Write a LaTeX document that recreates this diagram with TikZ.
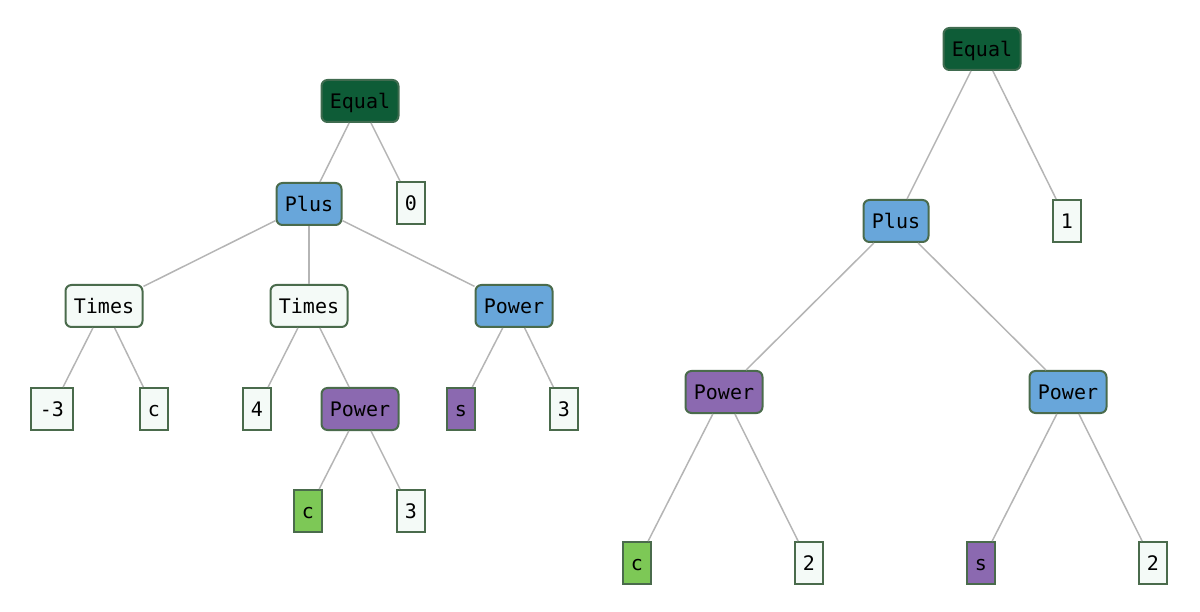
\documentclass[tikz,border=0pt]{standalone}
\usepackage{fontspec}
\setmonofont{DejaVu Sans Mono}
\definecolor{eqfill}{HTML}{0E5C37}
\definecolor{eqbord}{HTML}{3F6B4F}
\definecolor{bluef}{HTML}{68A6DA}
\definecolor{purpf}{HTML}{8B69B0}
\definecolor{greenf}{HTML}{7DC856}
\definecolor{whitef}{HTML}{F4FAF7}
\definecolor{bordc}{HTML}{4A6B4C}
\definecolor{linkc}{HTML}{B5B5B5}
\begin{document}
\begin{tikzpicture}[x=1pt,y=-1pt,
  base/.style={draw=bordc,line width=2pt,font=\ttfamily\fontsize{20}{22}\selectfont,
    minimum height=42pt,inner sep=0pt,text height=17pt,text depth=1.4pt,text=black},
  op/.style={base,rounded corners=6pt},
  op4/.style={op,minimum width=65pt},
  op5/.style={op,minimum width=77pt},
  leaf/.style={base,minimum width=28pt},
  leafw/.style={base,minimum width=42pt},
  eqc/.style={fill=eqfill,draw=eqbord},
  bluec/.style={fill=bluef},
  purpc/.style={fill=purpf},
  greenc/.style={fill=greenf},
  whitec/.style={fill=whitef},
  link/.style={draw=linkc,line width=1.5pt}]
\useasboundingbox (0,0) rectangle (1200,612);
% left tree
\node[op5,eqc] (L0) at (360,101) {Equal};
\node[leaf,whitec] (L1) at (411,203) {0};
\node[op4,bluec] (L2) at (309,204) {Plus};
\node[op5,whitec] (L3) at (104,306) {Times};
\node[op5,whitec] (L4) at (309,306) {Times};
\node[op5,bluec] (L5) at (514,306) {Power};
\node[leafw,whitec] (L6) at (52,409) {-3};
\node[leaf,whitec] (L7) at (154,409) {c};
\node[leaf,whitec] (L8) at (257,409) {4};
\node[op5,purpc] (L9) at (360,409) {Power};
\node[leaf,purpc] (L10) at (461,409) {s};
\node[leaf,whitec] (L11) at (564,409) {3};
\node[leaf,greenc] (L12) at (308,511) {c};
\node[leaf,whitec] (L13) at (411,511) {3};
\draw[link] (L0) -- (L2);
\draw[link] (L0) -- (L1);
\draw[link] (L2) -- (L3);
\draw[link] (L2) -- (L4);
\draw[link] (L2) -- (L5);
\draw[link] (L3) -- (L6);
\draw[link] (L3) -- (L7);
\draw[link] (L4) -- (L8);
\draw[link] (L4) -- (L9);
\draw[link] (L5) -- (L10);
\draw[link] (L5) -- (L11);
\draw[link] (L9) -- (L12);
\draw[link] (L9) -- (L13);
% right tree
\node[op5,eqc] (R0) at (982,49) {Equal};
\node[op4,bluec] (R1) at (896,221) {Plus};
\node[leaf,whitec] (R2) at (1067,221) {1};
\node[op5,purpc] (R3) at (724,392) {Power};
\node[op5,bluec] (R4) at (1068,392) {Power};
\node[leaf,greenc] (R5) at (637,563) {c};
\node[leaf,whitec] (R6) at (809,563) {2};
\node[leaf,purpc] (R7) at (981,563) {s};
\node[leaf,whitec] (R8) at (1153,563) {2};
\draw[link] (R0) -- (R1);
\draw[link] (R0) -- (R2);
\draw[link] (R1) -- (R3);
\draw[link] (R1) -- (R4);
\draw[link] (R3) -- (R5);
\draw[link] (R3) -- (R6);
\draw[link] (R4) -- (R7);
\draw[link] (R4) -- (R8);
\end{tikzpicture}
\end{document}
